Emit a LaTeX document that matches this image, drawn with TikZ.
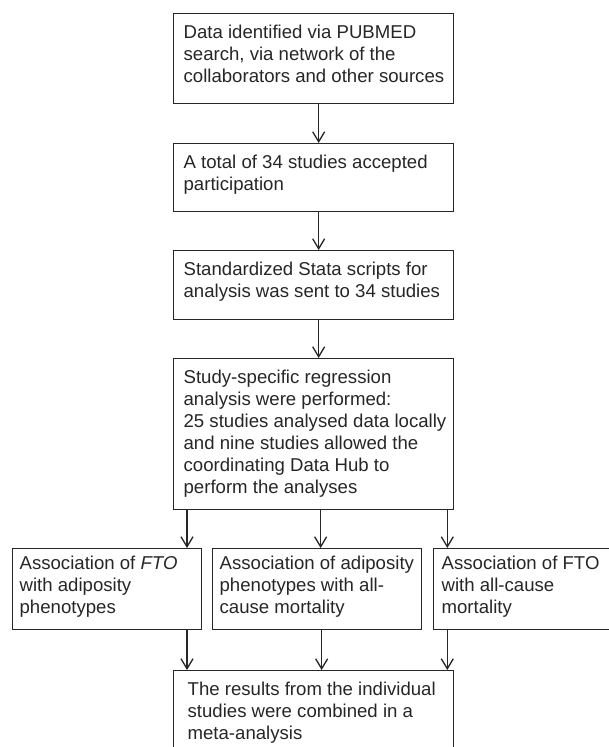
\documentclass[tikz,border=0pt]{standalone}
\usepackage{fontspec}
\setmainfont{Liberation Sans}
\usepackage{tikz}
\usetikzlibrary{arrows.meta}

\newcommand{\boxtext}[3]{\parbox[c][#2][t]{#1}{\begin{tabular}[t]{@{}l@{}}#3\end{tabular}}}

\begin{document}
\begin{tikzpicture}[x=1pt,y=-1pt,
	stepbox/.style={draw=black!85, line width=1.3pt, text=black!85, anchor=north west,
		inner xsep=10pt, inner ysep=9.6pt, font=\fontsize{18.6}{22}\selectfont},
	sidebox/.style={stepbox, inner xsep=7pt, inner ysep=5.6pt},
	flow/.style={draw=black!85, line width=1.3pt, -{Straight Barb[length=10pt,width=12pt]}}]
				\useasboundingbox (0,0) rectangle (609,747);
				\clip (0,0) rectangle (609,747);
				% main column
				\node [stepbox] (b1) at (173,13) {\boxtext{260pt}{70.8pt}{Data identified via PUBMED\\search, via network of the\\collaborators and other sources}};
				\node [stepbox] (b2) at (173,143) {\boxtext{260pt}{48.8pt}{A total of 34 studies accepted\\participation}};
				\node [stepbox] (b3) at (173,250) {\boxtext{260pt}{49.8pt}{Standardized Stata scripts for\\analysis was sent to 34 studies}};
				\node [stepbox] (b4) at (173,358) {\boxtext{260pt}{131.8pt}{Study-specific regression\\analysis were performed:\\25 studies analysed data locally\\and nine studies allowed the\\coordinating Data Hub to\\perform the analyses}};
				% three analyses
				\node [sidebox] (fto) at (12,548) {\boxtext{175pt}{69.8pt}{Association of \textit{FTO}\\with adiposity\\phenotypes}};
				\node [sidebox] (adip) at (212,548) {\boxtext{195pt}{69.8pt}{Association of adiposity\\phenotypes with all-\\cause mortality}};
				\node [sidebox, inner xsep=8pt] (mort) at (433,548) {\boxtext{164pt}{69.8pt}{Association of FTO\\with all-cause\\mortality}};
				% combined
				\node [stepbox, inner xsep=14pt] (meta) at (173,670) {\boxtext{252pt}{80.8pt}{The results from the individual\\studies were combined in a\\meta-analysis}};
				\draw [flow] ([xshift=5pt]b1.south) -- ([xshift=5pt]b2.north);
				\draw [flow] ([xshift=5pt]b2.south) -- ([xshift=5pt]b3.north);
				\draw [flow] ([xshift=5pt]b3.south) -- ([xshift=5pt]b4.north);
				\draw [flow] ([xshift=14pt]b4.south west) -- ([xshift=14pt]b4.south west |- fto.north);
				\draw [flow] ([xshift=7pt]b4.south) -- ([xshift=7pt]b4.south |- adip.north);
				\draw [flow] ([xshift=-7pt]b4.south east) -- ([xshift=-7pt]b4.south east |- mort.north);
				\draw [flow] ([xshift=14pt]meta.north west |- fto.south) -- ([xshift=14pt]meta.north west);
				\draw [flow] ([xshift=8pt]meta.north |- adip.south) -- ([xshift=8pt]meta.north);
				\draw [flow] ([xshift=-7pt]meta.north east |- mort.south) -- ([xshift=-7pt]meta.north east);
\end{tikzpicture}
\end{document}
